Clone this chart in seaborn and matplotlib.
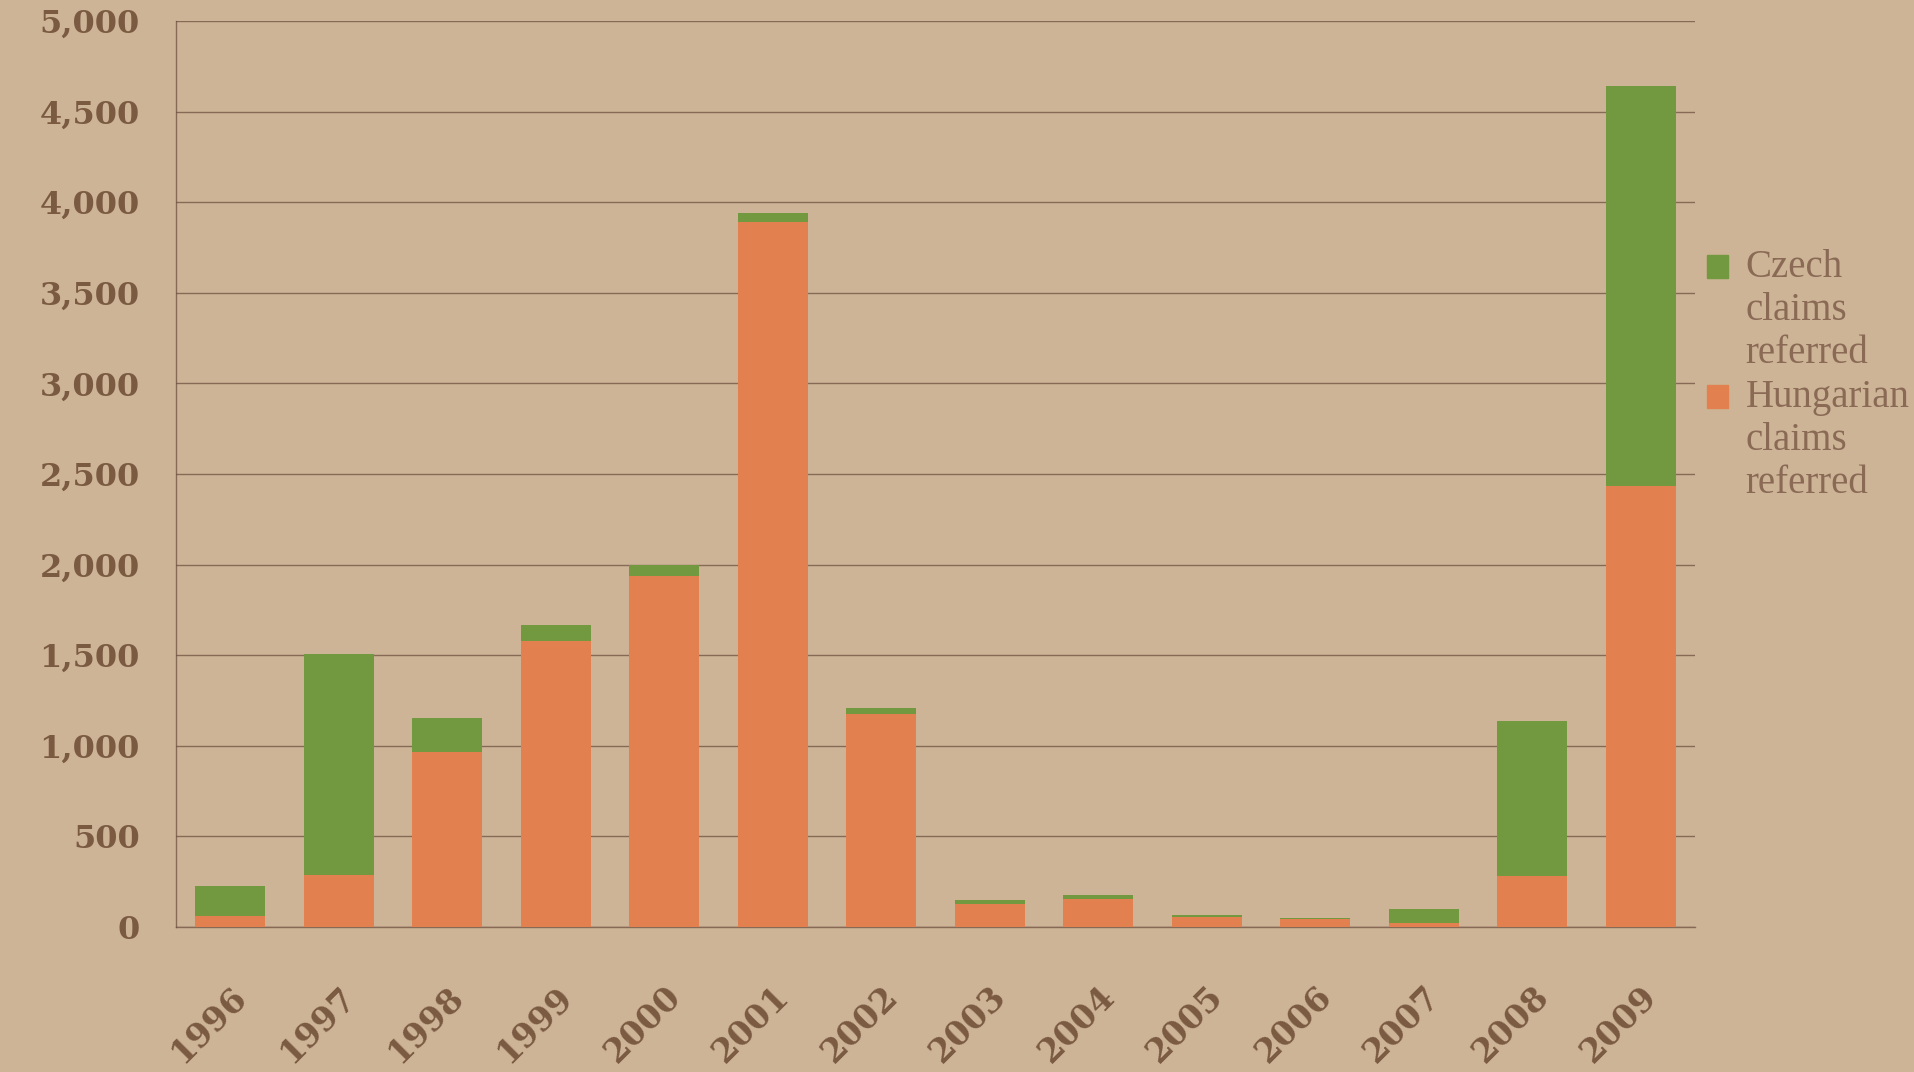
import pandas as pd
import matplotlib
matplotlib.use("Agg")
import matplotlib.pyplot as plt
import seaborn as sns
from matplotlib.patches import Patch

# values
years = ["1996", "1997", "1998", "1999", "2000", "2001", "2002",
         "2003", "2004", "2005", "2006", "2007", "2008", "2009"]
hungarian = [60, 287, 965, 1580, 1935, 3893, 1175, 127, 157, 55, 46, 22, 284, 2436]
czech = [165, 1220, 190, 88, 60, 47, 35, 22, 19, 13, 2, 79, 855, 2206]
y_ticks = [0, 500, 1000, 1500, 2000, 2500, 3000, 3500, 4000, 4500, 5000]

df = pd.DataFrame({"Year": years, "Hungarian": hungarian, "Czech": czech})
df["Total"] = df["Hungarian"] + df["Czech"]

paper = "#cdb497"
brown = "#7b5a42"
green = "#72993f"
orange = "#e2814f"

sns.set_theme(style="white")
plt.rcParams["font.family"] = ["DejaVu Serif"]

fig = plt.figure(figsize=(19.15, 10.72), dpi=100)
fig.patch.set_facecolor(paper)
ax = fig.add_axes([0.0919, 0.1353, 0.885 - 0.0919, 0.9804 - 0.1353])
ax.set_facecolor(paper)

# stacked: total in green, Hungarian part in orange on top of it
sns.barplot(data=df, x="Year", y="Total", color=green, saturation=1,
            width=0.645, linewidth=0, ax=ax, zorder=3)
sns.barplot(data=df, x="Year", y="Hungarian", color=orange, saturation=1,
            width=0.645, linewidth=0, ax=ax, zorder=4)

ax.set_xlim(-0.5, len(years) - 0.5)
ax.set_ylim(0, 5000)
ax.set_yticks(y_ticks)
ax.set_yticklabels([f"{v:,}" for v in y_ticks])
ax.set_xlabel("")
ax.set_ylabel("")

ax.yaxis.grid(True, color="#6e5240", linewidth=1.0, alpha=0.75, zorder=0)
ax.set_axisbelow(True)

for side in ["top", "right"]:
    ax.spines[side].set_visible(False)
for side in ["left", "bottom"]:
    ax.spines[side].set_color("#6e5240")
    ax.spines[side].set_linewidth(1.0)
    ax.spines[side].set_alpha(0.75)

ax.tick_params(axis="y", length=0, pad=26, labelsize=23, labelcolor=brown)
ax.tick_params(axis="x", length=0, pad=38, labelsize=24, labelcolor=brown)
for lbl in ax.get_yticklabels():
    lbl.set_fontweight("bold")
for lbl in ax.get_xticklabels():
    lbl.set_fontweight("bold")
    lbl.set_rotation(45)
    lbl.set_ha("right")
    lbl.set_va("top")
    lbl.set_rotation_mode("anchor")

handles = [Patch(color=green, label="Czech\nclaims\nreferred"),
           Patch(color=orange, label="Hungarian\nclaims\nreferred")]
leg = fig.legend(handles=handles, loc="upper left", bbox_to_anchor=(0.873, 0.8),
                 frameon=False, handlelength=0.55, handleheight=0.55,
                 handletextpad=0.45, labelspacing=0.2, labelcolor="#8a6a55",
                 prop={"family": "Liberation Serif", "size": 28})
for h in leg.legend_handles:
    h.set_y(h.get_y() + 32)

fig.savefig("out.png", dpi=100, facecolor=paper)
